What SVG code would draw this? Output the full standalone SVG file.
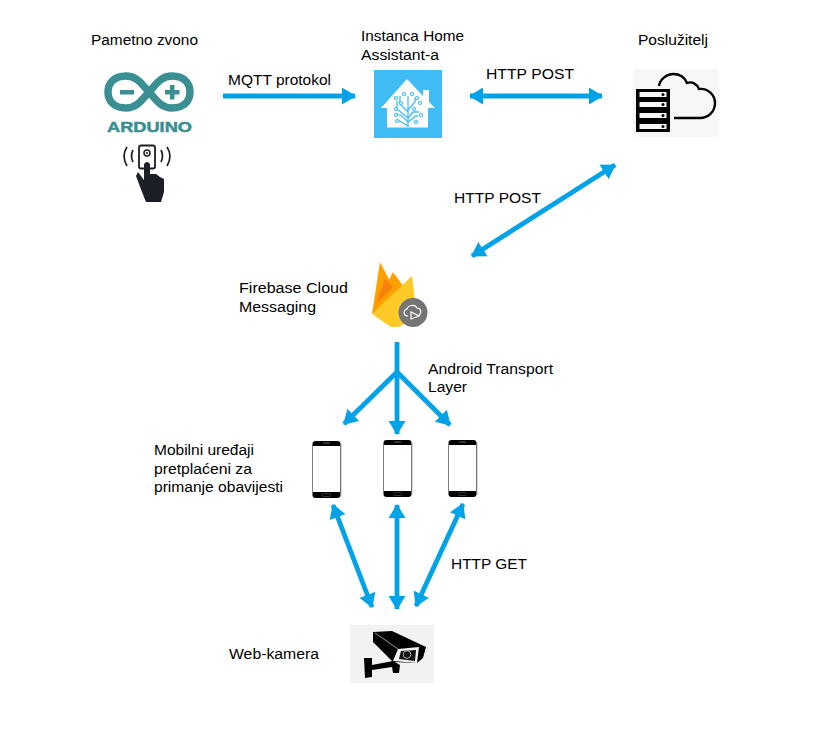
<svg xmlns="http://www.w3.org/2000/svg" xmlns:xlink="http://www.w3.org/1999/xlink" width="826" height="755" viewBox="0 0 826 755">
<style>
text{font-family:"Liberation Sans",Arial,sans-serif;font-size:15.3px;fill:#000}
.c{stroke:#00a2e8;stroke-width:4.8;fill:none}
.h{fill:#41bdf5}
.hl{stroke:#41bdf5;stroke-width:1.3;fill:none}
.hd{fill:#fff;stroke:#41bdf5;stroke-width:1.2}
</style>
<defs>
<marker id="a" viewBox="0 0 14 17" refX="13" refY="8.500" markerUnits="userSpaceOnUse" markerWidth="14" markerHeight="17" orient="auto-start-reverse"><path d="M0 0L14 8.500L0 17z" fill="#00a2e8"/></marker>
<g id="phone">
<rect x="0.5" y="0.5" width="28" height="57" rx="3" fill="#000"/>
<rect x="28" y="3" width="1.3" height="52" fill="#777"/>
<rect x="1" y="5.500" width="27" height="46" fill="#fff"/>
<rect x="11" y="2" width="7" height="1" fill="#666"/>
<rect x="10.500" y="53" width="8" height="3" rx="1" fill="none" stroke="#555" stroke-width=".6"/>
</g>
</defs>
<rect width="826" height="755" fill="#fff"/>

<g id="connectors">
<path class="c" d="M223 96H355" marker-end="url(#a)"/>
<path class="c" d="M470 96H602" marker-start="url(#a)" marker-end="url(#a)"/>
<path class="c" d="M615 165L472 256" marker-start="url(#a)" marker-end="url(#a)"/>
<path class="c" d="M397 342V434" marker-end="url(#a)"/>
<path class="c" d="M397 372L344 424" marker-end="url(#a)"/>
<path class="c" d="M397 372L450 425" marker-end="url(#a)"/>
<path class="c" d="M333 505L372 607" marker-start="url(#a)" marker-end="url(#a)"/>
<path class="c" d="M397 505V609" marker-start="url(#a)" marker-end="url(#a)"/>
<path class="c" d="M463 504L416 606" marker-start="url(#a)" marker-end="url(#a)"/>
</g>

<g id="n-zvono">
<text x="91" y="45" textLength="107" lengthAdjust="spacingAndGlyphs">Pametno zvono</text>
<path d="M126 76C113 76 108 84 108 92S113 108 126 108C138 108 143 98 149 92C155 86 160 76 172 76C185 76 190 84 190 92S185 108 172 108C160 108 155 98 149 92C143 86 138 76 126 76Z" fill="none" stroke="#3a8f92" stroke-width="7.500"/>
<rect x="120" y="90" width="14" height="4.500" fill="#3a8f92"/>
<path d="M165 90h5v-5h4.500v5h5v4.500h-5v5h-4.500v-5h-5z" fill="#3a8f92"/>
<text x="107" y="132" style="font-size:15px;font-weight:bold;fill:#3a8f92;stroke:#3a8f92;stroke-width:.5" textLength="85" lengthAdjust="spacingAndGlyphs">ARDUINO</text>
<path d="M127 147Q121 156 127 166M133 150Q130 156 133 162M167 147Q173 156 167 166M161 150Q164 156 161 162" fill="none" stroke="#1c2026" stroke-width="1.700"/>
<rect x="139" y="145.500" width="16" height="23" rx="2" fill="#fff" stroke="#1c2026" stroke-width="1.800"/>
<circle cx="147" cy="153" r="3" fill="none" stroke="#1c2026" stroke-width="1.500"/>
<circle cx="147" cy="153" r="1.100" fill="#1c2026"/>
<path d="M144 164Q147 160 150 164V174L156 174L160 177L164 179V192L161 202H146L142 192L136 176L138 172L144 180Z" fill="#1c2026"/>
</g>

<g id="n-ha">
<text x="361" y="41" textLength="103" lengthAdjust="spacingAndGlyphs">Instanca Home</text>
<text x="361" y="60" textLength="78" lengthAdjust="spacingAndGlyphs">Assistant-a</text>
<rect class="h" x="374" y="70" width="68" height="68"/>
<path d="M381 108H387V127.500H428V108H435L429 102V90H423V96L407 79Z" fill="#fff"/>
<path d="M408 127V96" class="hl"/>
<path d="M408 118L397 109L397 101M408 112L400 104V96M408 110L415 102V98M408 122L416 116H418M408 122L402 116L397 114M408 118L413 112H419M408 126L398 120" class="hl"/>
<circle class="hd" cx="404" cy="94" r="1.500"/><circle class="hd" cx="412" cy="94" r="1.500"/><circle class="hd" cx="396" cy="98" r="1.500"/><circle class="hd" cx="417" cy="98" r="1.500"/><circle class="hd" cx="401" cy="103" r="1.500"/><circle class="hd" cx="420" cy="103" r="1.500"/><circle class="hd" cx="396" cy="109" r="1.500"/><circle class="hd" cx="414" cy="109" r="1.500"/><circle class="hd" cx="396" cy="115" r="1.500"/><circle class="hd" cx="421" cy="115" r="1.500"/><circle class="hd" cx="397" cy="121" r="1.500"/><circle class="hd" cx="416" cy="122" r="1.500"/>
</g>

<g id="n-posluzitelj">
<text x="638" y="45" textLength="70" lengthAdjust="spacingAndGlyphs">Poslužitelj</text>
<rect x="633" y="69" width="86" height="68" fill="#f7f7f7"/>
<path d="M659 86C660 79 667 74 673 74C680 74 685 78 687 83C692 81 697 84 699 89C708 88 715 95 715 103C715 112 708 118 700 118H674" fill="none" stroke="#000" stroke-width="2.400"/>
<rect x="636" y="89" width="34" height="43" fill="#000"/>
<g fill="#f7f7f7"><rect x="639.500" y="92" width="27" height="5"/><rect x="639.500" y="102" width="27" height="5"/><rect x="639.500" y="113" width="27" height="5"/><rect x="639.500" y="124" width="27" height="5"/></g>
<g fill="#000"><circle cx="663" cy="94.500" r="1.500"/><circle cx="663" cy="104.500" r="1.500"/><circle cx="663" cy="115.500" r="1.500"/><circle cx="663" cy="126.500" r="1.500"/></g>
</g>

<g id="n-firebase">
<text x="239" y="293" textLength="109" lengthAdjust="spacingAndGlyphs">Firebase Cloud</text>
<text x="239" y="312" textLength="77" lengthAdjust="spacingAndGlyphs">Messaging</text>
<path d="M372 314L393 272L404 287L392 310Z" fill="#ffa000"/>
<path d="M372 314L380 262L393 287Z" fill="#ffa000"/>
<path d="M385 279L393 287L376 304Z" fill="#f6820c"/>
<path d="M372 314L412 276L417 318L398 327H391Z" fill="#ffca28"/>
<circle cx="413" cy="312.500" r="14.500" fill="#757575"/>
<path d="M408 316C403 316 403 310 407 309C408 305 415 304 417 308C421 308 422 313 419 315" fill="none" stroke="#fff" stroke-width="1.200"/>
<path d="M411 312V319L419 316Z" fill="#757575" stroke="#fff" stroke-width="1.200"/>
</g>

<g id="n-android">
<text x="428" y="374" textLength="125" lengthAdjust="spacingAndGlyphs">Android Transport</text>
<text x="428" y="392" textLength="39" lengthAdjust="spacingAndGlyphs">Layer</text>
</g>

<g id="n-mobiteli">
<text x="154" y="455" textLength="100" lengthAdjust="spacingAndGlyphs">Mobilni uređaji</text>
<text x="154" y="474" textLength="98" lengthAdjust="spacingAndGlyphs">pretplaćeni za</text>
<text x="154" y="492" textLength="129" lengthAdjust="spacingAndGlyphs">primanje obavijesti</text>
<use xlink:href="#phone" href="#phone" x="312" y="440.500"/>
<use xlink:href="#phone" href="#phone" x="383" y="439.500"/>
<use xlink:href="#phone" href="#phone" x="448" y="439.500"/>
</g>

<g id="n-kamera">
<text x="229" y="659" textLength="90" lengthAdjust="spacingAndGlyphs">Web-kamera</text>
<rect x="350" y="625" width="84" height="58" fill="#f2f2f2"/>
<path d="M373 632L392 631L426 647L423 658L417 663L393 662L373 642Z" fill="#000"/>
<path d="M375 633L398 649" stroke="#ddd" stroke-width=".7"/>
<path d="M398 649L419 647L417 663L393 661Z" fill="#f2f2f2"/>
<path d="M401 651L416 650L415 661L399 659Z" fill="#111"/>
<circle cx="407" cy="654.500" r="3.800" fill="none" stroke="#ccc" stroke-width=".8"/>
<path d="M364 658L372 658V665L393 661L400 665L399 673L393 673L392 667L372 670V677L365 678Z" fill="#000"/>
</g>

<text x="228" y="85" textLength="103" lengthAdjust="spacingAndGlyphs">MQTT protokol</text>
<text x="486" y="79" textLength="88" lengthAdjust="spacingAndGlyphs">HTTP POST</text>
<text x="454" y="203" textLength="87" lengthAdjust="spacingAndGlyphs">HTTP POST</text>
<text x="451" y="569" textLength="76" lengthAdjust="spacingAndGlyphs">HTTP GET</text>
</svg>
